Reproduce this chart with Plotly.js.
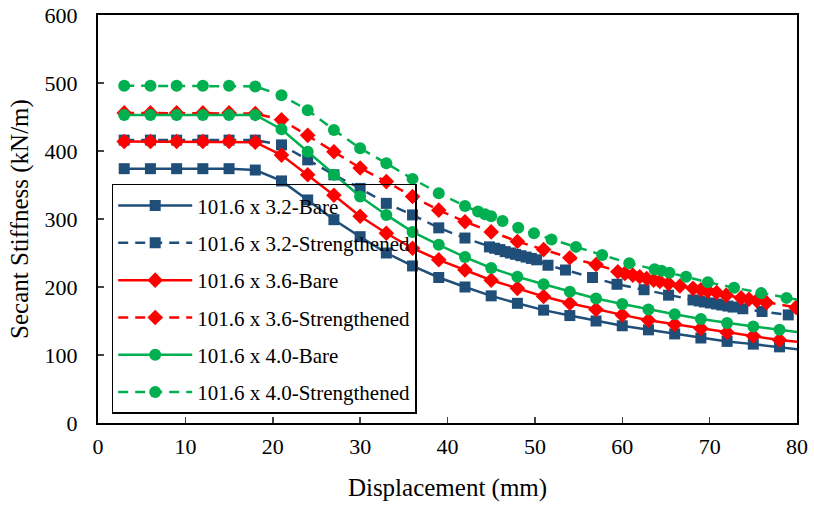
<!DOCTYPE html>
<html>
<head>
<meta charset="utf-8">
<script src="https://cdn.plot.ly/plotly-3.0.1.min.js"></script>
<style>html,body{margin:0;padding:0;background:#fff;}#chart{width:814px;height:508px;}</style>
</head>
<body>
<div id="chart"></div>
<script>
// Bare specimens: regular displacement steps (last point lies just beyond the axis end)
var xBare = [3,6,9,12,15,18,21,24,27,30,33,36,39,42,45,48,51,54,57,60,63,66,69,72,75,78,81];
var bare32 = [374,374,374,374,374,372,356,328,299,274,250,231,214,200,187,176,166,158,150,143,137,131,125,120,116,112,107];
var bare36 = [414,414,414,414,414,413,394,365,335,304,279,257,240,225,210,198,186,176,167,159,151,145,139,133,128,122,118];
var bare40 = [453,453,453,453,453,453,432,399,365,333,306,281,262,244,228,215,204,193,183,175,167,160,153,147,142,137,132];

// Strengthened specimens: irregular displacement steps
var xStr32 = [3,6,9,12,15,18,21,24,27,30,33,36,39,42,44.8,45.4,46.0,46.6,47.2,47.8,48.4,49.0,49.6,50.2,51.5,53.5,56.6,59.4,62.5,65.3,68.1,68.8,69.4,70.1,70.8,71.4,72.1,72.7,73.8,76,79];
var str32 = [416,416,416,416,416,416,409,387,365,345,323,306,287,272,259,257,255,252,250,248,246,244,242,240,232,225,214,204,196,188,181,179.5,178,176.5,175,173.5,172,170.5,168,164,159];
var xStr36 = [3,6,9,12,15,18,21,24,27,30,33,36,39,42,45,48,51,54,57,59.5,60.3,61.2,62.0,62.8,63.6,64.3,65.3,66.6,68.1,69.0,69.8,70.8,71.9,73.6,74.5,75.4,76.5,79.9];
var str36 = [456,456,456,456,456,455,446,423,399,375,355,333,313,296,281,267,255,243,233,222.5,220,217.5,215,212.5,210,208,205,201.5,198,196,194,192,188,184,182,180,177,170];
var xStr40 = [3,6,9,12,15,18,21,24,27,30,33,36,39,42,43.5,44.3,45,46.3,48.1,49.9,51.9,54.7,57.7,60.8,63.7,64.5,65.4,67.3,69.8,72.8,75.9,78.8,81];
var str40 = [496,496,496,496,496,495,482,460,431,404,382,359,338,319,311,307,304,297,287,279,270,259,247,235,226,224,221,215,207,199,191,184,179];

var names = ['101.6 x 3.2-Bare','101.6 x 3.2-Strengthened','101.6 x 3.6-Bare','101.6 x 3.6-Strengthened','101.6 x 4.0-Bare','101.6 x 4.0-Strengthened'];
var xTicks = [0,10,20,30,40,50,60,70,80];
var yTicks = [0,100,200,300,400,500,600];

var blue = '#1F4E79', red = '#FF0000', green = '#00B050';
var dashP = '10px,7px';
function tr(x, y, name, color, dash, symbol, size, g) {
  return {x: x, y: y, name: name, type: 'scatter', mode: 'lines+markers', legendgroup: g,
    line: {color: color, width: 2.5, dash: dash},
    marker: {color: color, symbol: symbol, size: size}};
}
var data = [
  tr(xBare, bare32, names[0], blue, 'solid', 'square', 11, 'a'),
  tr(xStr32, str32, names[1], blue, dashP, 'square', 11, 'b'),
  tr(xBare, bare36, names[2], red, 'solid', 'diamond', 12, 'c'),
  tr(xStr36, str36, names[3], red, dashP, 'diamond', 12, 'd'),
  tr(xBare, bare40, names[4], green, 'solid', 'circle', 12, 'e'),
  tr(xStr40, str40, names[5], green, dashP, 'circle', 12, 'f')
];
var font = 'Liberation Serif, Times New Roman, serif';
var layout = {
  width: 814, height: 508,
  margin: {l: 98, r: 17, t: 15, b: 85},
  paper_bgcolor: '#fff', plot_bgcolor: '#fff',
  font: {family: font, color: '#000', size: 22},
  showlegend: true,
  legend: {x: 0.0196, y: 0.586, xanchor: 'left', yanchor: 'top', bgcolor: 'rgba(0,0,0,0)',
    bordercolor: '#000', borderwidth: 1.5, font: {family: font, size: 21, color: '#000'},
    tracegroupgap: 7, itemwidth: 74},
  xaxis: {range: [0, 80], tickvals: xTicks, ticktext: xTicks.map(String), ticks: 'inside', ticklen: 6,
    tickwidth: 1.5, showline: true, linewidth: 2, linecolor: '#000', mirror: true, showgrid: false,
    zeroline: false, ticklabelstandoff: 3, tickfont: {size: 22},
    title: {text: 'Displacement (mm)', font: {family: font, size: 25}, standoff: 20}},
  yaxis: {range: [0, 600], tickvals: yTicks, ticktext: yTicks.map(String), ticks: 'inside', ticklen: 6,
    tickwidth: 1.5, showline: true, linewidth: 2, linecolor: '#000', mirror: true, showgrid: false,
    zeroline: false, ticklabelstandoff: 14, tickfont: {size: 22},
    title: {text: 'Secant Stiffness (kN/m)', font: {family: font, size: 25}, standoff: 9}}
};
Plotly.newPlot('chart', data, layout, {displayModeBar: false, staticPlot: true});
</script>
</body>
</html>
